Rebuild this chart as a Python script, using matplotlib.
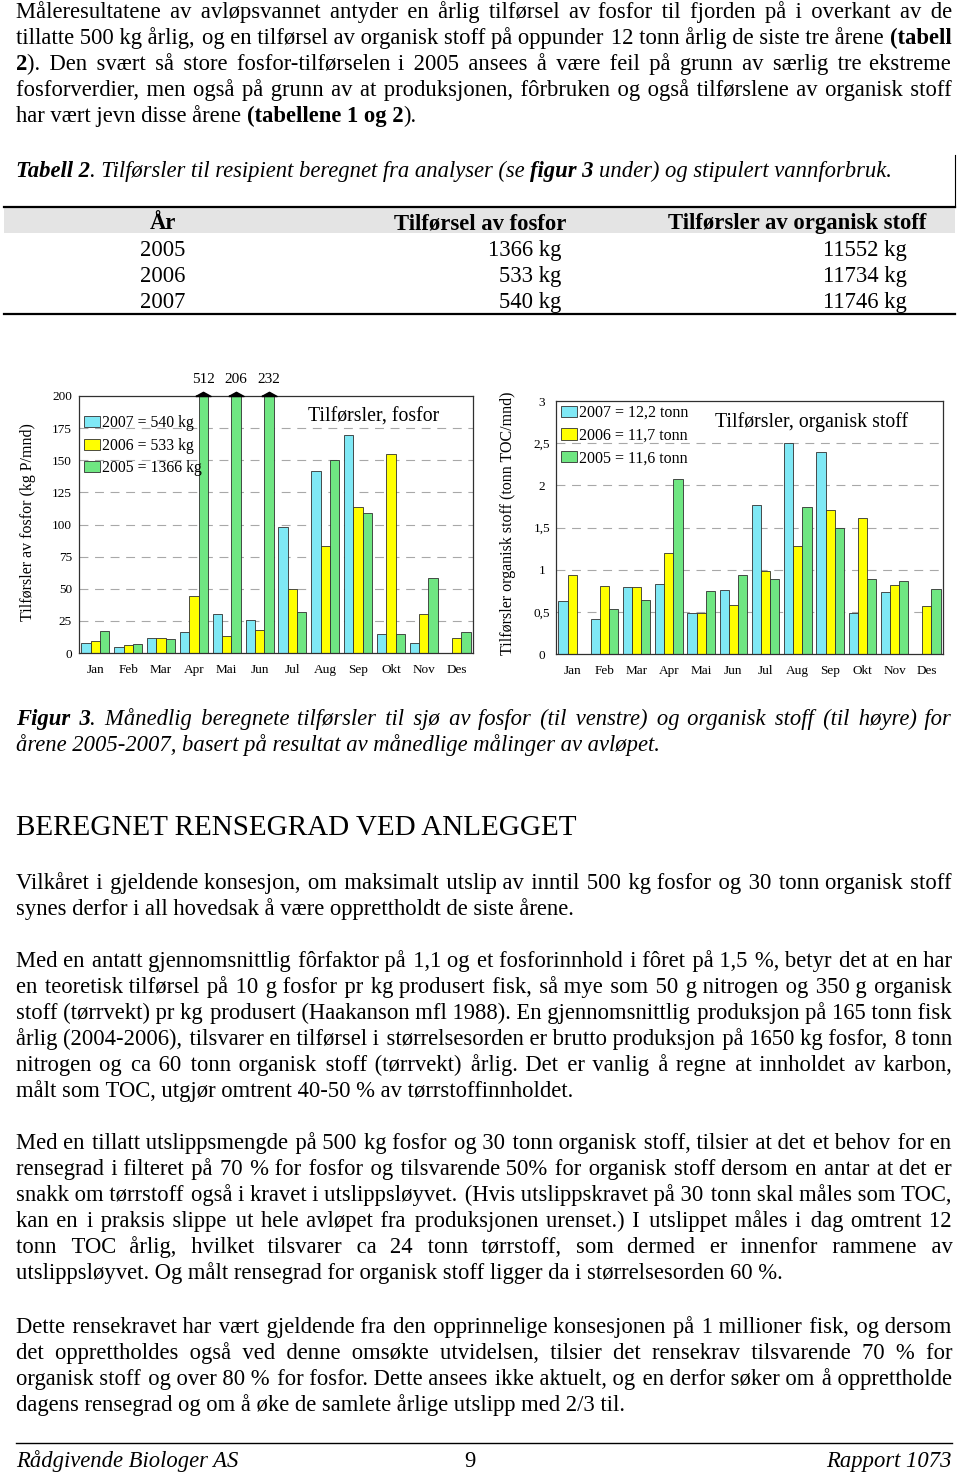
import unicodedata
import matplotlib
matplotlib.use("Agg")
import matplotlib.pyplot as plt
from matplotlib.patches import Rectangle
from matplotlib.lines import Line2D
from matplotlib.ticker import FuncFormatter

plt.rcParams['font.family'] = ['Liberation Serif', 'DejaVu Serif']

# ---------------- data ----------------
months = ['Jan', 'Feb', 'Mar', 'Apr', 'Mai', 'Jun', 'Jul', 'Aug', 'Sep', 'Okt', 'Nov', 'Des']
p_2007 = [8, 5, 12, 16, 30, 26, 98, 142, 170, 15, 8, 0]
p_2006 = [9, 6, 12, 44, 13, 18, 50, 83, 114, 155, 30, 12]
p_2005 = [17, 7, 11, 512, 206, 232, 32, 150, 109, 15, 58, 16]
toc_2007 = [0.63, 0.41, 0.79, 0.83, 0.49, 0.76, 1.77, 2.50, 2.39, 0.49, 0.74, 0.0]
toc_2006 = [0.94, 0.81, 0.79, 1.20, 0.49, 0.58, 0.99, 1.28, 1.71, 1.61, 0.82, 0.57]
toc_2005 = [0.0, 0.53, 0.64, 2.08, 0.75, 0.94, 0.89, 1.74, 1.50, 0.89, 0.86, 0.77]
p_labels = ['2007 = 540 kg', '2006 = 533 kg', '2005 = 1366 kg']
toc_labels = ['2007 = 12,2 tonn', '2006 = 11,7 tonn', '2005 = 11,6 tonn']
p_yticks = [0, 25, 50, 75, 100, 125, 150, 175, 200]
toc_yticks = [0, 0.5, 1, 1.5, 2, 2.5, 3]

table_header = ['År', 'Tilførsel av fosfor', 'Tilførsler av organisk stoff']
table_years = ['2005', '2006', '2007']
table_fosfor = ['1366 kg', '533 kg', '540 kg']
table_org = ['11552 kg', '11734 kg', '11746 kg']

para1 = [
    "Måleresultatene av avløpsvannet antyder en årlig tilførsel av fosfor til fjorden på i overkant av de",
    "tillatte 500 kg årlig, og en tilførsel av organisk stoff på oppunder 12 tonn årlig de siste tre årene *(tabell*",
    "*2*). Den svært så store fosfor-tilførselen i 2005 ansees å være feil på grunn av særlig tre ekstreme",
    "fosforverdier, men også på grunn av at produksjonen, fôrbruken og også tilførslene av organisk stoff",
    "har vært jevn disse årene *(tabellene 1 og 2*).",
]
table_caption = "*Tabell 2*. Tilførsler til resipient beregnet fra analyser (se *figur 3* under) og stipulert vannforbruk."
fig_caption = [
    "*Figur 3*. Månedlig beregnete tilførsler til sjø av fosfor (til venstre) og organisk stoff (til høyre) for",
    "årene 2005-2007, basert på resultat av månedlige målinger av avløpet.",
]
heading = "BEREGNET RENSEGRAD VED ANLEGGET"
para2 = [
    "Vilkåret i gjeldende konsesjon, om maksimalt utslip av inntil 500 kg fosfor og 30 tonn organisk stoff",
    "synes derfor i all hovedsak å være opprettholdt de siste årene.",
]
para3 = [
    "Med en antatt gjennomsnittlig fôrfaktor på 1,1 og et fosforinnhold i fôret på 1,5 %, betyr det at en har",
    "en teoretisk tilførsel på 10 g fosfor pr kg produsert fisk, så mye som 50 g nitrogen og 350 g organisk",
    "stoff (tørrvekt) pr kg produsert (Haakanson mfl 1988). En gjennomsnittlig produksjon på 165 tonn fisk",
    "årlig (2004-2006), tilsvarer en tilførsel i størrelsesorden er brutto produksjon på 1650 kg fosfor, 8 tonn",
    "nitrogen og ca 60 tonn organisk stoff (tørrvekt) årlig. Det er vanlig å regne at innholdet av karbon,",
    "målt som TOC, utgjør omtrent 40-50 % av tørrstoffinnholdet.",
]
para4 = [
    "Med en tillatt utslippsmengde på 500 kg fosfor og 30 tonn organisk stoff, tilsier at det et behov for en",
    "rensegrad i filteret på 70 % for fosfor og tilsvarende 50% for organisk stoff dersom en antar at det er",
    "snakk om tørrstoff også i kravet i utslippsløyvet. (Hvis utslippskravet på 30 tonn skal måles som TOC,",
    "kan en i praksis slippe ut hele avløpet fra produksjonen urenset.) I utslippet måles i dag omtrent 12",
    "tonn TOC årlig, hvilket tilsvarer ca 24 tonn tørrstoff, som dermed er innenfor rammene av",
    "utslippsløyvet. Og målt rensegrad for organisk stoff ligger da i størrelsesorden 60 %.",
]
para5 = [
    "Dette rensekravet har vært gjeldende fra den opprinnelige konsesjonen på 1 millioner fisk, og dersom",
    "det opprettholdes også ved denne omsøkte utvidelsen, tilsier det rensekrav tilsvarende 70 % for",
    "organisk stoff og over 80 % for fosfor. Dette ansees ikke aktuelt, og en derfor søker om å opprettholde",
    "dagens rensegrad og om å øke de samlete årlige utslipp med 2/3 til.",
]
footer_left = "Rådgivende Biologer AS"
footer_mid = "9"
footer_right = "Rapport 1073"

# ---------------- figure ----------------
W, H = 960, 1472
fig = plt.figure(figsize=(W / 100, H / 100), dpi=100)
fig.patch.set_facecolor('white')
renderer = fig.canvas.get_renderer()
FS = 16.3
HAIR = '\u200a'


def clean(s):
    s = unicodedata.normalize('NFC', s)
    for a, b in (('o\u0338', 'ø'), ('o\u0337', 'ø'), ('\u00a0', ' ')):
        s = s.replace(a, b)
    return s


def fx(x):
    return x / W


def fy(y):
    return 1 - y / H


_mcache = {}


def measure(s, bold, ital, size):
    key = (s, bold, ital, size)
    if key not in _mcache:
        t = fig.text(0, 0, s, fontsize=size, fontweight='bold' if bold else 'normal',
                     fontstyle='italic' if ital else 'normal')
        _mcache[key] = t.get_window_extent(renderer).width
        t.remove()
    return _mcache[key]


def parse(line, base_italic=False):
    words, cur, buf = [], [], ''
    bold, ital = False, base_italic
    for ch in clean(line):
        if ch in '*~':
            if buf:
                cur.append((buf, bold, ital))
                buf = ''
            if ch == '*':
                bold = not bold
            else:
                ital = not ital
        elif ch == ' ':
            if buf:
                cur.append((buf, bold, ital))
                buf = ''
            if cur:
                words.append(cur)
                cur = []
        else:
            buf += ch
    if buf:
        cur.append((buf, bold, ital))
    if cur:
        words.append(cur)
    return words


def draw_line(line, y, justify, base_italic=False, x0=16, x1=952, size=FS):
    words = parse(line, base_italic)
    widths = [[measure(s, b, i, size) for (s, b, i) in w] for w in words]
    total = sum(sum(ws) for ws in widths)
    space = measure('x x', False, base_italic, size) - measure('xx', False, base_italic, size)
    if justify and len(words) > 1:
        gap = max((x1 - x0 - total) / (len(words) - 1), 2)
    else:
        gap = space
    # flatten into runs of equal style; gaps filled with hair spaces
    runs = []  # [x_start, text, bold, ital]
    x = x0
    for wi, (w, ws) in enumerate(zip(words, widths)):
        for si, ((s, b, i), sw) in enumerate(zip(w, ws)):
            if runs and runs[-1][2] == b and runs[-1][3] == i and (si > 0 or wi > 0):
                r = runs[-1]
                cur_end = r[0] + measure(r[1], b, i, size)
                if si == 0:
                    hw = (measure('x' + HAIR * 20 + 'x', b, i, size) - measure('xx', b, i, size)) / 20
                    n = max(int(round((x - cur_end) / hw)), 1)
                    r[1] += HAIR * n
                r[1] += s
            else:
                runs.append([x, s, b, i])
            x += sw
        x += gap
    for xs, s, b, i in runs:
        fig.text(fx(xs), fy(y), s, fontsize=size, va='baseline', ha='left',
                 fontweight='bold' if b else 'normal',
                 fontstyle='italic' if i else 'normal')


def draw_para(lines, y0, step=26, base_italic=False):
    for k, ln in enumerate(lines):
        draw_line(ln, y0 + k * step, justify=(k < len(lines) - 1), base_italic=base_italic)


def hline(x0, x1, y, lw=1.0, color='black'):
    fig.add_artist(Line2D([fx(x0), fx(x1)], [fy(y), fy(y)], lw=lw, color=color))


# text blocks
draw_para(para1, 18)
draw_line(table_caption, 177, justify=False, base_italic=True)

# table
fig.add_artist(Rectangle((fx(4), fy(233)), fx(955) - fx(4), fy(207) - fy(233),
                         facecolor='#E4E4E4', edgecolor='none'))
hline(4, 955, 207, lw=1.6)
hline(4, 955, 314, lw=1.6)
fig.add_artist(Line2D([fx(955), fx(955)], [fy(155), fy(207)], lw=0.8, color='black'))
hdr_x = [163, 480, 797]
for hx, h in zip(hdr_x, table_header):
    fig.text(fx(hx), fy(229), h, fontsize=FS, fontweight='bold', ha='center', va='baseline')
for k in range(3):
    yb = 256 + 26 * k
    fig.text(fx(163), fy(yb), table_years[k], fontsize=FS, ha='center', va='baseline')
    fig.text(fx(561), fy(yb), table_fosfor[k], fontsize=FS, ha='right', va='baseline')
    fig.text(fx(907), fy(yb), table_org[k], fontsize=FS, ha='right', va='baseline')

# ---------------- charts ----------------
colors = ['#7FE8F5', '#FFFF00', '#6FE682']
bw = 0.285
TICK_FS = 9.5


def make_axes(l, t, r, b):
    return fig.add_axes([fx(l), fy(b), (r - l) / W, (b - t) / H])


def style_axes(ax, ymax, yticks):
    ax.set_xlim(-0.5, 11.5)
    ax.set_ylim(0, ymax)
    ax.set_xticks(range(12))
    ax.set_xticklabels(months, fontsize=TICK_FS)
    ax.set_yticks(yticks)
    ax.tick_params(axis='both', length=0, labelsize=TICK_FS)
    ax.tick_params(axis='x', pad=8)
    for y in yticks[1:-1]:
        ax.axhline(y, color='#A8A8A8', lw=0.8, dashes=(8, 6), zorder=0)
    for s in ax.spines.values():
        s.set_color('#303030')
        s.set_linewidth(0.9)


def draw_bars(ax, series, labels):
    for k, (vals, lab) in enumerate(zip(series, labels)):
        xs = [i + (k - 1) * bw for i in range(12)]
        ax.bar(xs, vals, width=bw, color=colors[k], edgecolor='#303030',
               linewidth=0.6, label=lab, zorder=2)


legend_kw = dict(loc='upper left', frameon=False, handlelength=1.05, handleheight=0.7,
                 handletextpad=0.1, labelspacing=0.42, borderpad=0, borderaxespad=0)

# left chart (fosfor)
axL = make_axes(79, 396, 473, 653)
style_axes(axL, 200, p_yticks)
axL.tick_params(axis='y', pad=5)
draw_bars(axL, [p_2007, p_2006, p_2005], p_labels)
axL.legend(bbox_to_anchor=(0.012, 0.925), fontsize=11.3, **legend_kw)
axL.text((374 - 79) / 394, 1 - (422 - 396) / 257, 'Tilførsler, fosfor', transform=axL.transAxes,
         fontsize=14.3, ha='center', va='baseline')
tri = [(-1, 0), (1, 0), (0, 0.55), (-1, 0)]
ymaxL = axL.get_ylim()[1]
for i, v in enumerate(p_2005):
    if v > ymaxL:
        xb = i + bw
        axL.plot([xb], [ymaxL], marker=tri, ms=11, color='black', ls='none', clip_on=False, zorder=5)
        axL.annotate(str(v), xy=(xb, ymaxL), xytext=(0, 13), textcoords='offset pixels',
                     ha='center', va='baseline', fontsize=11, annotation_clip=False)
fig.text(fx(28), fy(522), 'Tilførsler av fosfor (kg P/mnd)', rotation=90, fontsize=11.5,
         ha='center', va='center')

# right chart (organisk stoff)
axR = make_axes(556, 401, 943, 654)
style_axes(axR, 3, toc_yticks)
axR.yaxis.set_major_formatter(FuncFormatter(lambda v, p: ('%g' % v).replace('.', ',')))
axR.tick_params(axis='y', pad=10)
for lbl in axR.get_yticklabels():
    lbl.set_ha('center')
draw_bars(axR, [toc_2007, toc_2006, toc_2005], toc_labels)
axR.legend(bbox_to_anchor=(0.012, 0.985), fontsize=11.5, **legend_kw)
axR.text((812 - 556) / 387, 1 - (427 - 401) / 253, 'Tilførsler, organisk stoff',
         transform=axR.transAxes, fontsize=14.3, ha='center', va='baseline')
fig.text(fx(508), fy(523), 'Tilførsler organisk stoff (tonn TOC/mnd)', rotation=90, fontsize=11.5,
         ha='center', va='center')

# lower text
draw_para(fig_caption, 725, base_italic=True)
fig.text(fx(16), fy(835), heading, fontsize=21, ha='left', va='baseline')
draw_para(para2, 889)
draw_para(para3, 967)
draw_para(para4, 1149)
draw_para(para5, 1333)

# footer
hline(16, 952, 1443, lw=1.0)
fig.text(fx(16), fy(1467), footer_left, fontsize=FS, fontstyle='italic', ha='left', va='baseline')
fig.text(fx(470), fy(1467), footer_mid, fontsize=FS, ha='center', va='baseline')
fig.text(fx(952), fy(1467), footer_right, fontsize=FS, fontstyle='italic', ha='right', va='baseline')

fig.savefig('out.png', dpi=100, facecolor='white')
